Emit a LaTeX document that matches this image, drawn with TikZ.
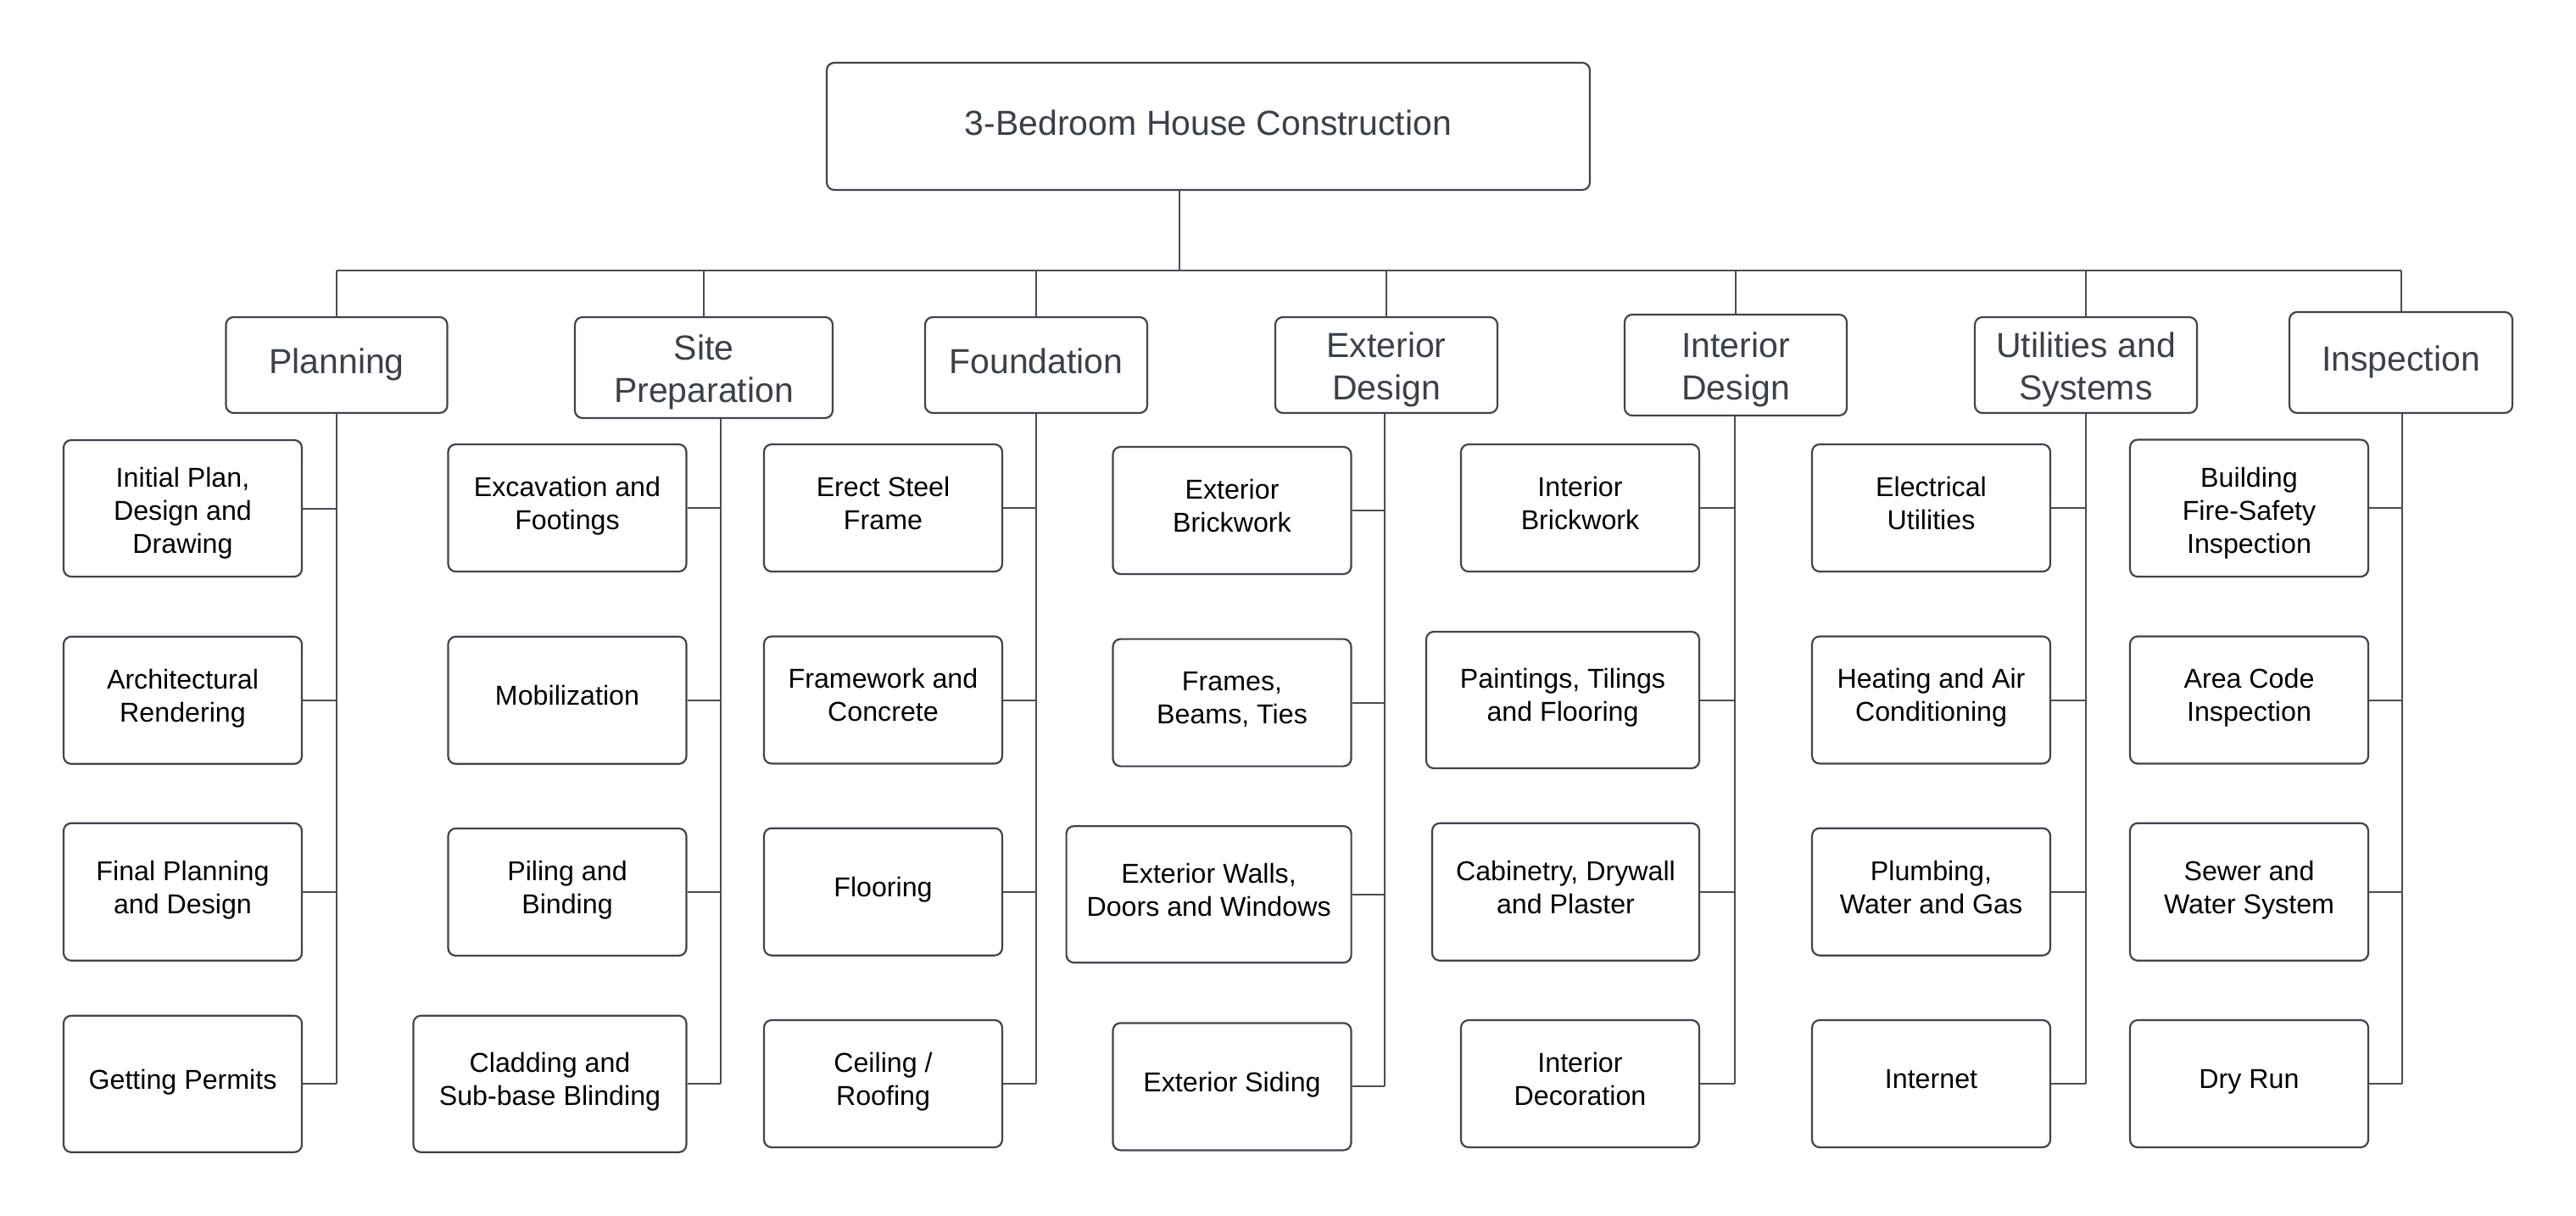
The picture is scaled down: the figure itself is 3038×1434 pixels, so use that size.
\documentclass[tikz,border=0pt]{standalone}
\usepackage{fontspec}
\setmainfont{Liberation Sans}
\definecolor{couleurbord}{HTML}{3F454D}
\definecolor{couleurtextcat}{HTML}{3A414A}
\definecolor{couleurtext}{HTML}{000000}
\definecolor{couleurlien}{HTML}{474D55}
\newcommand{\lienhorz}[2]{\draw[lien] (#2.east) -- (#2.east -| #1);}
\newcommand{\lienvert}[2]{\draw[lien] (#1) -- (#2.east -| #1);}
\newcommand{\liencat}[1]{\draw[lien] (#1.north |- bus) -- (#1.north);}
% etais de ligne (hauteur de la 1re ligne, profondeur de la derniere)
\newcommand{\dl}{\rule{0pt}{\etaihaut}}
\newcommand{\fl}{\rule[-\etaiprof]{0pt}{\etaiprof}}
\tikzset{
		etai/.code 2 args={\def\etaihaut{#1}\def\etaiprof{#2}},
		base/.style={draw=couleurbord, line width=2.2, rounded corners=9, inner sep=0, align=center},
		titre/.style={base, text=couleurtextcat, font=\fontsize{41}{50}\selectfont, etai={32pt}{10pt}},
		categorie/.style={base, text=couleurtextcat, font=\fontsize{41}{50}\selectfont, etai={30.5pt}{10.3pt}},
		categoriedeux/.style={categorie, etai={41.5pt}{9.1pt}},
		tache/.style={base, text=couleurtext, font=\fontsize{32.2}{39}\selectfont, minimum width=281, minimum height=150, etai={24pt}{12.4pt}},
		tachetrois/.style={tache, etai={35.5pt}{7.1pt}},
		lien/.style={draw=couleurlien, line width=2}
	}
\begin{document}
\begin{tikzpicture}[x=1pt, y=-1pt]
		\fill[white] (0,0) rectangle (3038,1434);
		\useasboundingbox (0,0) rectangle (3038,1434);
		% titre
		\node[titre, minimum width=900, minimum height=150] (maison) at (1425,149) {\dl 3-Bedroom House Construction\fl};
		% categories
		\node[categorie, minimum width=261, minimum height=113] (planific) at (397,430.5) {\dl Planning\fl};
		\node[categoriedeux, minimum width=304, minimum height=119] (prepsite) at (830,433.5) {\dl Site\\Preparation\fl};
		\node[categorie, minimum width=262, minimum height=113] (fondatio) at (1222,430.5) {\dl Foundation\fl};
		\node[categoriedeux, minimum width=262, minimum height=113] (exterieu) at (1635,430.5) {\dl Exterior\\Design\fl};
		\node[categoriedeux, minimum width=262, minimum height=119] (interieu) at (2047,430.5) {\dl Interior\\Design\fl};
		\node[categoriedeux, minimum width=262, minimum height=113] (utilsyst) at (2460,430.5) {\dl Utilities and\\Systems\fl};
		\node[categorie, minimum width=263, minimum height=119] (inspecti) at (2831.5,427.5) {\dl Inspection\fl};
		% planning
		\node[tachetrois, minimum height=161] (initplan) at (215.5,599.5) {\dl Initial Plan,\\Design and\\Drawing\fl};
		\node[tache] (archrend) at (215.5,825.8) {\dl Architectural\\Rendering\fl};
		\node[tache, minimum height=162] (finalpla) at (215.5,1051.8) {\dl Final Planning\\and Design\fl};
		\node[tache, minimum height=161] (permisco) at (215.5,1278.3) {\dl Getting Permits\fl};
		% site preparation
		\node[tache] (excavati) at (669,599) {\dl Excavation and\\Footings\fl};
		\node[tache] (mobilisa) at (669,825.8) {\dl Mobilization\fl};
		\node[tache] (pilotage) at (669,1052) {\dl Piling and\\Binding\fl};
		\node[tache, minimum width=322, minimum height=161] (bardage) at (648.5,1278.3) {\dl Cladding and\\Sub-base Blinding\fl};
		% foundation
		\node[tache] (acierstr) at (1041.5,599) {\dl Erect Steel\\Frame\fl};
		\node[tache] (charpent) at (1041.5,825.5) {\dl Framework and\\Concrete\fl};
		\node[tache] (plancher) at (1041.5,1051.7) {\dl Flooring\fl};
		\node[tache] (toiture) at (1041.5,1278) {\dl Ceiling /\\Roofing\fl};
		% exterior design
		\node[tache] (briqexte) at (1453,602) {\dl Exterior\\Brickwork\fl};
		\node[tache] (cadrepou) at (1453,828.6) {\dl Frames,\\Beams, Ties\fl};
		\node[tache, minimum width=336, minimum height=161] (mursexte) at (1425.6,1054.7) {\dl Exterior Walls,\\Doors and Windows\fl};
		\node[tache] (revetext) at (1453,1281.4) {\dl Exterior Siding\fl};
		% interior design
		\node[tache] (briqinte) at (1863.5,599) {\dl Interior\\Brickwork\fl};
		\node[tache, minimum width=322, minimum height=161] (peinture) at (1843,825.5) {\dl Paintings, Tilings\\and Flooring\fl};
		\node[tache, minimum width=315, minimum height=162] (ebeniste) at (1846.5,1051.8) {\dl Cabinetry, Drywall\\and Plaster\fl};
		\node[tache] (decorint) at (1863.5,1278) {\dl Interior\\Decoration\fl};
		% utilities and systems
		\node[tache] (electric) at (2277.5,599) {\dl Electrical\\Utilities\fl};
		\node[tache] (chauffag) at (2277.5,825.5) {\dl Heating and Air\\Conditioning\fl};
		\node[tache] (plomberi) at (2277.5,1051.7) {\dl Plumbing,\\Water and Gas\fl};
		\node[tache] (internet) at (2277.5,1278) {\dl Internet\fl};
		% inspection
		\node[tachetrois, minimum height=161.5] (incendie) at (2652.5,599.3) {\dl Building\\Fire-Safety\\Inspection\fl};
		\node[tache] (codezone) at (2652.5,825.5) {\dl Area Code\\Inspection\fl};
		\node[tache, minimum height=162] (egoutsys) at (2652.5,1051.8) {\dl Sewer and\\Water System\fl};
		\node[tache] (essaifin) at (2652.5,1278) {\dl Dry Run\fl};

		% Liens
		\coordinate (bus) at (1391,319);
		\draw[lien] (maison.south -| bus) -- (bus);
		\draw[lien] (planific.north |- bus) -- (inspecti.north |- bus);
		\liencat{planific}
		\liencat{prepsite}
		\liencat{fondatio}
		\liencat{exterieu}
		\liencat{interieu}
		\liencat{utilsyst}
		\liencat{inspecti}

		\coordinate (tplanifi) at (planific.south);
		\coordinate (tprepsit) at ([xshift=20]prepsite.south);
		\coordinate (tfondati) at (fondatio.south);
		\coordinate (texterie) at ([xshift=-2]exterieu.south);
		\coordinate (tinterie) at ([xshift=-1]interieu.south);
		\coordinate (tutilsys) at (utilsyst.south);
		\coordinate (tinspect) at ([xshift=1.5]inspecti.south);

		\lienvert{tplanifi}{permisco}
		\lienhorz{tplanifi}{initplan}
		\lienhorz{tplanifi}{archrend}
		\lienhorz{tplanifi}{finalpla}
		\lienhorz{tplanifi}{permisco}

		\lienvert{tprepsit}{bardage}
		\lienhorz{tprepsit}{excavati}
		\lienhorz{tprepsit}{mobilisa}
		\lienhorz{tprepsit}{pilotage}
		\lienhorz{tprepsit}{bardage}

		\lienvert{tfondati}{toiture}
		\lienhorz{tfondati}{acierstr}
		\lienhorz{tfondati}{charpent}
		\lienhorz{tfondati}{plancher}
		\lienhorz{tfondati}{toiture}

		\lienvert{texterie}{revetext}
		\lienhorz{texterie}{briqexte}
		\lienhorz{texterie}{cadrepou}
		\lienhorz{texterie}{mursexte}
		\lienhorz{texterie}{revetext}

		\lienvert{tinterie}{decorint}
		\lienhorz{tinterie}{briqinte}
		\lienhorz{tinterie}{peinture}
		\lienhorz{tinterie}{ebeniste}
		\lienhorz{tinterie}{decorint}

		\lienvert{tutilsys}{internet}
		\lienhorz{tutilsys}{electric}
		\lienhorz{tutilsys}{chauffag}
		\lienhorz{tutilsys}{plomberi}
		\lienhorz{tutilsys}{internet}

		\lienvert{tinspect}{essaifin}
		\lienhorz{tinspect}{incendie}
		\lienhorz{tinspect}{codezone}
		\lienhorz{tinspect}{egoutsys}
		\lienhorz{tinspect}{essaifin}
	\end{tikzpicture}
\end{document}
